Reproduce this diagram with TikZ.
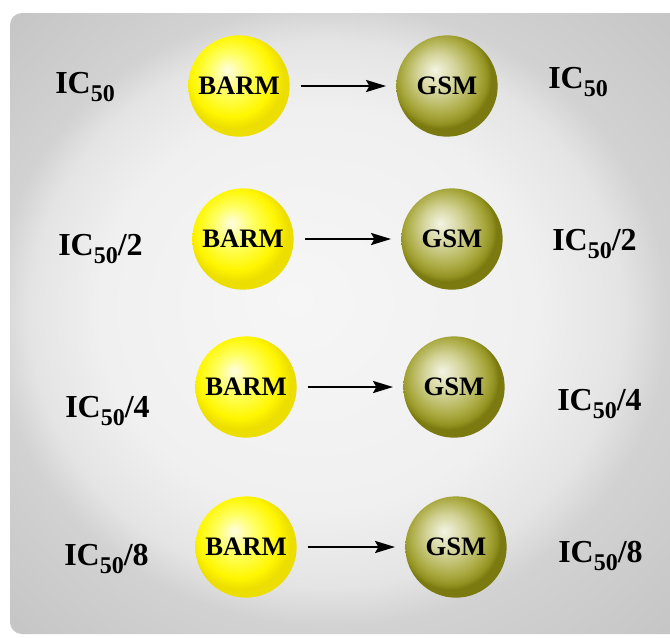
\documentclass[tikz,border=0pt]{standalone}
\usepackage{fontspec}
\setmainfont{Liberation Serif}
\usetikzlibrary{arrows.meta}
\definecolor{pA}{HTML}{F6F6F6}
\definecolor{pA2}{HTML}{F0F0F0}
\definecolor{pB}{HTML}{E4E4E4}
\definecolor{pC}{HTML}{D2D2D2}
\definecolor{pD}{HTML}{C4C4C4}
\definecolor{yA}{HTML}{FFFDE0}
\definecolor{yB}{HTML}{FFFF60}
\definecolor{yC}{HTML}{FFF600}
\definecolor{yD}{HTML}{ECDE00}
\definecolor{oA}{HTML}{F4F4E4}
\definecolor{oB}{HTML}{D2D296}
\definecolor{oC}{HTML}{AAAA42}
\definecolor{oC2}{HTML}{929222}
\definecolor{oD}{HTML}{7A7A10}
\pgfdeclareradialshading{panelsh}{\pgfpoint{-4bp}{2bp}}{color(0bp)=(pA); color(16bp)=(pA2); color(22bp)=(pB); color(25bp)=(pC); color(36bp)=(pD)}
\pgfdeclareradialshading{ysh}{\pgfpoint{-6bp}{8bp}}{color(0bp)=(yA); color(10bp)=(yB); color(20bp)=(yC); color(25bp)=(yD); color(50bp)=(yD)}
\pgfdeclareradialshading{osh}{\pgfpoint{-6bp}{8bp}}{color(0bp)=(oA); color(10bp)=(oB); color(19bp)=(oC); color(23bp)=(oC2); color(25bp)=(oD); color(50bp)=(oD)}
\newcommand{\iclab}[1]{{\fontsize{24}{28}\selectfont\bfseries IC\raisebox{-6pt}{\fontsize{18}{20}\selectfont 50}#1}}
\tikzset{
  ballbase/.style={circle, inner sep=0pt, minimum size=76pt, font=\fontsize{20}{22}\selectfont\bfseries},
  yball/.style={ballbase, shading=ysh},
  oball/.style={ballbase, shading=osh},
  lab/.style={anchor=base west, inner sep=0pt},
  conn/.style={line width=1.8pt, -{Stealth[length=15pt,width=9pt,inset=2.5pt]}, shorten <=8pt, shorten >=7.5pt}
}
\begin{document}
\begin{tikzpicture}[x=0.75pt,y=-0.75pt]
\useasboundingbox (0,0) rectangle (670,637);
\path[shading=panelsh, rounded corners=9pt] (10,13) rectangle (684,634);
% row 1
\node[yball] (b1) at (239,86) {BARM};
\node[oball] (g1) at (447,86) {GSM};
\node[lab] (l1) at (55,93) {\iclab{}};
\node[lab] (r1) at (548,88) {\iclab{}};
% row 2
\node[yball] (b2) at (243,239) {BARM};
\node[oball] (g2) at (452,239) {GSM};
\node[lab] (l2) at (58,255) {\iclab{/2}};
\node[lab] (r2) at (552,250) {\iclab{/2}};
% row 3
\node[yball] (b3) at (246,387) {BARM};
\node[oball] (g3) at (454,387) {GSM};
\node[lab] (l3) at (65,417) {\iclab{/4}};
\node[lab] (r3) at (557,410) {\iclab{/4}};
% row 4
\node[yball] (b4) at (246,547) {BARM};
\node[oball] (g4) at (456,547) {GSM};
\node[lab] (l4) at (64,565) {\iclab{/8}};
\node[lab] (r4) at (558,562) {\iclab{/8}};
% arrows
\draw[conn] (b1) -- (g1);
\draw[conn] (b2) -- (g2);
\draw[conn] (b3) -- (g3);
\draw[conn] (b4) -- (g4);
\end{tikzpicture}
\end{document}
